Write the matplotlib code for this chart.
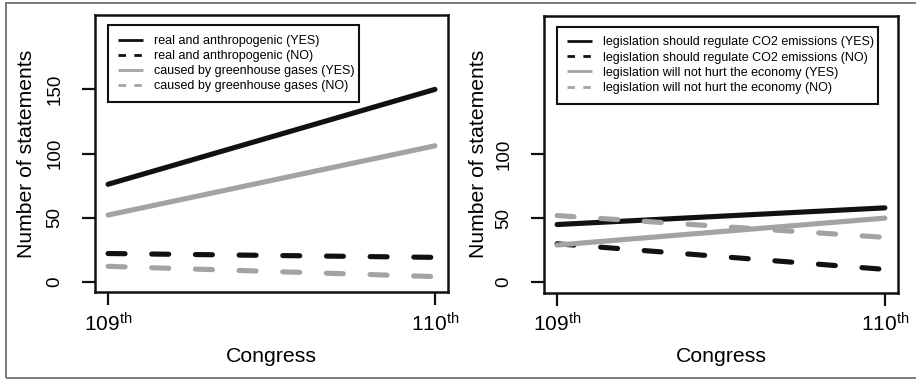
import matplotlib
matplotlib.use("Agg")
import matplotlib.pyplot as plt
from matplotlib.lines import Line2D
from matplotlib.patches import Rectangle

plt.rcParams['font.family'] = ['Liberation Sans', 'DejaVu Sans']
plt.rcParams['mathtext.fontset'] = 'custom'
plt.rcParams['mathtext.rm'] = 'Liberation Sans'
plt.rcParams['mathtext.it'] = 'Liberation Sans'

# ---- data ----
congress = [109, 110]
xtick_labels = [r'109$^{\mathrm{th}}$', r'110$^{\mathrm{th}}$']

left_labels = ["real and anthropogenic (YES)", "real and anthropogenic (NO)",
               "caused by greenhouse gases (YES)", "caused by greenhouse gases (NO)"]
real_yes = [76, 150]
real_no = [22, 19]
ghg_yes = [52, 106]
ghg_no = [12, 4]
left_yticks = [0, 50, 100, 150]

right_labels = ["legislation should regulate CO2 emissions (YES)",
                "legislation should regulate CO2 emissions (NO)",
                "legislation will not hurt the economy (YES)",
                "legislation will not hurt the economy (NO)"]
reg_yes = [45, 58]
reg_no = [30, 10]
econ_yes = [29, 50]
econ_no = [52, 35]
right_yticks = [0, 50, 100]

BLACK = '#111111'
GRAY = '#a3a3a3'
styles = [(BLACK, False), (BLACK, True), (GRAY, False), (GRAY, True)]

W, H = 916, 379
fig = plt.figure(figsize=(W / 100, H / 100), dpi=100)

# outer frame
fig.patches.append(Rectangle((5.5 / W, 1.3 / H), 1.02, (H - 3 - 1.3) / H,
                             transform=fig.transFigure, fill=False,
                             edgecolor='#7a7a7a', linewidth=1.4))


def px_axes(x0, y0, x1, y1):
    return fig.add_axes([x0 / W, 1 - y1 / H, (x1 - x0) / W, (y1 - y0) / H])


LW = 3.7
DASH = (3.3, 5.2)


def panel(ax, series, labels, yticks, lab_x, leg_box):
    for vals, (col, dashed) in zip(series, styles):
        ln, = ax.plot(congress, vals, color=col, lw=LW,
                      solid_capstyle='round', dash_capstyle='round')
        if dashed:
            ln.set_dashes(DASH)
    ax.set_xlim(109 - 0.04, 110 + 0.04)
    ax.set_ylim(-8, 208)
    ax.set_xticks(congress)
    ax.set_xticklabels(xtick_labels, fontsize=15)
    ax.set_yticks(yticks)
    ax.set_yticklabels([str(v) for v in yticks], fontsize=13.5, rotation=90, va='center')
    ax.tick_params(axis='both', direction='out', length=9.4, width=1.6, color=BLACK)
    ax.tick_params(axis='y', pad=13.5)
    ax.tick_params(axis='x', pad=5)
    for s in ax.spines.values():
        s.set_linewidth(1.8)
        s.set_color(BLACK)
    # legend proxies
    handles = []
    for col, dashed in styles:
        h = Line2D([0], [0], color=col, lw=2.0, solid_capstyle='butt', dash_capstyle='butt')
        if dashed:
            h.set_dashes((2.7, 3.0))
        handles.append(h)
    x0, y0, x1, y1 = leg_box
    p0 = ax.transAxes.inverted().transform(fig.transFigure.transform((x0 / W, 1 - y1 / H)))
    p1 = ax.transAxes.inverted().transform(fig.transFigure.transform((x1 / W, 1 - y0 / H)))
    leg = ax.legend(handles, labels, loc='upper left',
                    bbox_to_anchor=(p0[0], p0[1], p1[0] - p0[0], p1[1] - p0[1]),
                    mode='expand', borderaxespad=0, fontsize=9, frameon=True,
                    fancybox=False, handlelength=2.0, handletextpad=0.9,
                    borderpad=0.8, labelspacing=0.25)
    fr = leg.get_frame()
    fr.set_edgecolor(BLACK)
    fr.set_linewidth(1.5)
    fr.set_alpha(None)
    fr.set_facecolor('white')
    # labels
    bbox = ax.get_position()
    cx = bbox.x0 + bbox.width / 2
    cy = bbox.y0 + bbox.height / 2
    fig.text(lab_x / W, cy, 'Number of statements', rotation=90, ha='center',
             va='center', fontsize=15.2)
    fig.text(cx, 1 - 357 / H, 'Congress', ha='center', va='center', fontsize=15.3)


axL = px_axes(95, 15, 448, 292)
panel(axL, [real_yes, real_no, ghg_yes, ghg_no], left_labels, left_yticks, 27,
      (108, 25, 359, 102))

axR = px_axes(544, 15.5, 898, 292.5)
panel(axR, [reg_yes, reg_no, econ_yes, econ_no], right_labels, right_yticks, 478,
      (557, 26.5, 878, 103))

fig.savefig('out.png', dpi=100)
